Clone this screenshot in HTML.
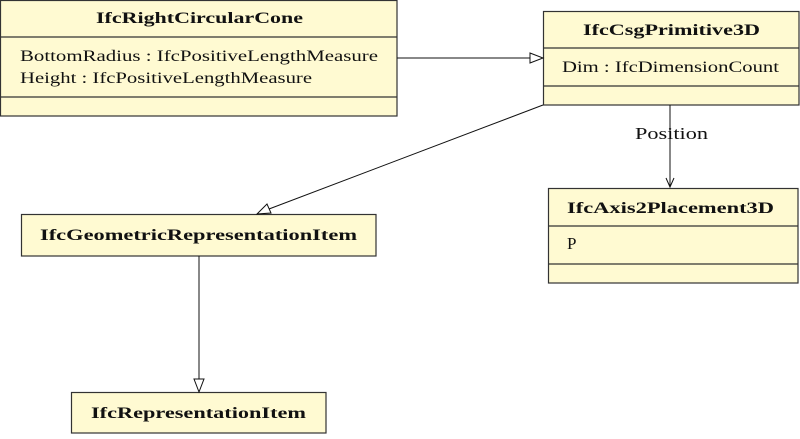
<!DOCTYPE html>
<html><head><style>body{margin:0;background:#fff}</style></head><body>
<svg width="800" height="434" viewBox="0 0 800 434" xmlns="http://www.w3.org/2000/svg" font-family="Liberation Serif, serif" font-size="16" fill="#111">
<g stroke="#333" stroke-width="1.2" fill="#fffad2">
<rect x="0.5" y="0.5" width="396.5" height="115.5"/>
<line x1="0" y1="37" x2="397" y2="37"/><line x1="0" y1="97" x2="397" y2="97"/>
<rect x="543.5" y="11.5" width="255.5" height="93.5"/>
<line x1="543" y1="48" x2="799" y2="48"/><line x1="543" y1="86" x2="799" y2="86"/>
<rect x="548.5" y="188.5" width="249.5" height="94.5"/>
<line x1="548" y1="226" x2="798" y2="226"/><line x1="548" y1="264" x2="798" y2="264"/>
<rect x="21.5" y="214.5" width="354.5" height="41.5"/>
<rect x="71.5" y="392.5" width="254.5" height="40.5"/>
</g>
<g stroke="#111" stroke-width="1" fill="none">
<line x1="397" y1="58" x2="530" y2="58"/>
<polygon points="530,53 543,58 530,63" fill="#fff"/>
<line x1="543" y1="105" x2="269" y2="209"/>
<polygon points="257,214 267,204 271,213" fill="#fff"/>
<line x1="670" y1="105" x2="670" y2="187"/>
<polyline points="666,178 670,187 674,178"/>
<line x1="199" y1="256" x2="199" y2="379"/>
<polygon points="194,379 204,379 199,392" fill="#fff"/>
</g>
<g font-weight="bold">
<text x="96" y="23" textLength="207" lengthAdjust="spacingAndGlyphs">IfcRightCircularCone</text>
<text x="583" y="35" textLength="177" lengthAdjust="spacingAndGlyphs">IfcCsgPrimitive3D</text>
<text x="567" y="213" textLength="207" lengthAdjust="spacingAndGlyphs">IfcAxis2Placement3D</text>
<text x="40" y="240" textLength="317" lengthAdjust="spacingAndGlyphs">IfcGeometricRepresentationItem</text>
<text x="91" y="418" textLength="215" lengthAdjust="spacingAndGlyphs">IfcRepresentationItem</text>
</g>
<text x="20" y="61" textLength="358" lengthAdjust="spacingAndGlyphs">BottomRadius : IfcPositiveLengthMeasure</text>
<text x="20" y="83" textLength="292" lengthAdjust="spacingAndGlyphs">Height : IfcPositiveLengthMeasure</text>
<text x="562" y="72" textLength="217" lengthAdjust="spacingAndGlyphs">Dim : IfcDimensionCount</text>
<text x="567" y="249" font-size="17">P</text>
<text x="635" y="139" font-size="17" textLength="73" lengthAdjust="spacingAndGlyphs">Position</text>
</svg>
</body></html>
